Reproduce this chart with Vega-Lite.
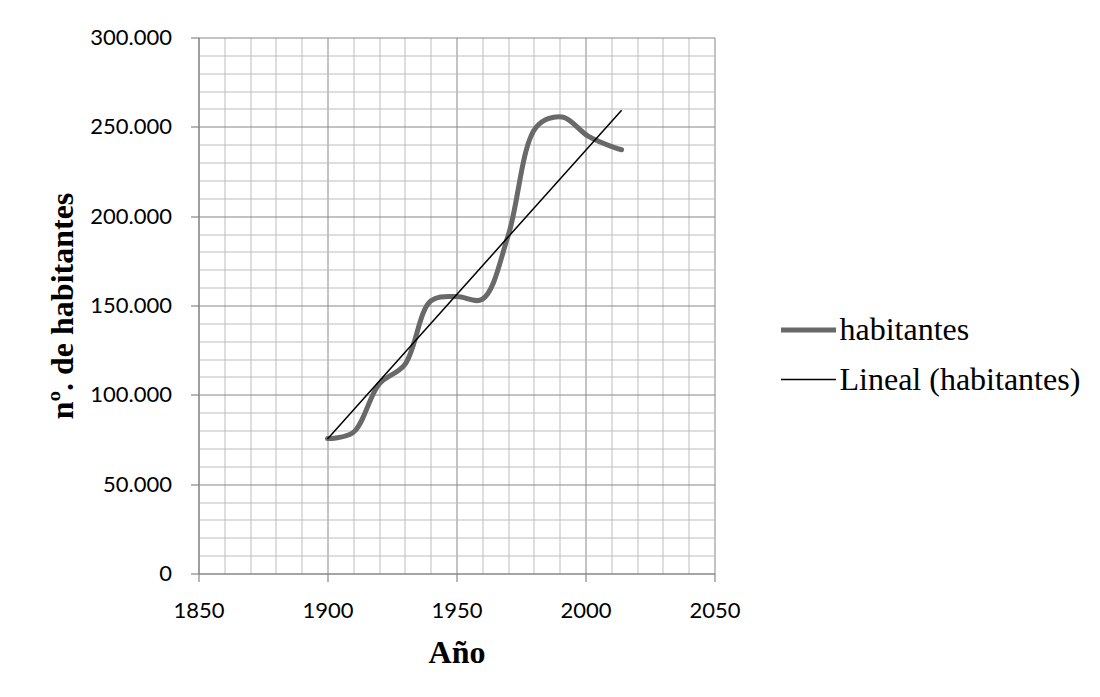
{
  "$schema": "https://vega.github.io/schema/vega-lite/v6.json",
  "width": 516,
  "height": 536,
  "autosize": {"type": "none"},
  "padding": {"left": 198.5, "top": 37.5, "right": 385.5, "bottom": 123},
  "background": "white",
  "config": {
    "view": {"stroke": null},
    "locale": {"number": {"decimal": ",", "thousands": ".", "grouping": [3], "currency": ["", " €"]}},
    "axis": {"labelFlush": false, "labelOverlap": false}
  },
  "datasets": {
    "habitantes": [
      {"anio": 1900, "valor": 75500, "serie": "habitantes"},
      {"anio": 1910, "valor": 79000, "serie": "habitantes"},
      {"anio": 1920, "valor": 106000, "serie": "habitantes"},
      {"anio": 1930, "valor": 117000, "serie": "habitantes"},
      {"anio": 1940, "valor": 152500, "serie": "habitantes"},
      {"anio": 1950, "valor": 155000, "serie": "habitantes"},
      {"anio": 1960, "valor": 153500, "serie": "habitantes"},
      {"anio": 1970, "valor": 189000, "serie": "habitantes"},
      {"anio": 1981, "valor": 250000, "serie": "habitantes"},
      {"anio": 1991, "valor": 255500, "serie": "habitantes"},
      {"anio": 2001, "valor": 244800, "serie": "habitantes"},
      {"anio": 2011, "valor": 238500, "serie": "habitantes"},
      {"anio": 2014, "valor": 237200, "serie": "habitantes"}
    ],
    "tendencia": [
      {"anio": 1900, "valor": 75300, "serie": "Lineal (habitantes)"},
      {"anio": 2014, "valor": 259300, "serie": "Lineal (habitantes)"}
    ]
  },
  "resolve": {"axis": {"x": "independent", "y": "independent"}},
  "layer": [
    {
      "data": {"name": "habitantes"},
      "mark": {"type": "line", "interpolate": "catmull-rom", "strokeCap": "round"},
      "encoding": {
        "x": {
          "field": "anio", "type": "quantitative",
          "scale": {"domain": [1850, 2050], "nice": false, "zero": false},
          "axis": {
            "orient": "bottom",
            "values": [1860, 1870, 1880, 1890, 1910, 1920, 1930, 1940, 1960, 1970, 1980, 1990, 2010, 2020, 2030, 2040],
            "grid": true, "gridColor": "#bdbdbd", "gridWidth": 1, "gridOpacity": 1,
            "domain": false, "ticks": false, "labels": false, "title": null
          }
        },
        "y": {
          "field": "valor", "type": "quantitative",
          "scale": {"domain": [0, 300000], "nice": false},
          "axis": {
            "orient": "left",
            "values": [10000, 20000, 30000, 40000, 60000, 70000, 80000, 90000, 110000, 120000, 130000, 140000, 160000, 170000, 180000, 190000, 210000, 220000, 230000, 240000, 260000, 270000, 280000, 290000],
            "grid": true, "gridColor": "#bdbdbd", "gridWidth": 1, "gridOpacity": 1,
            "domain": false, "ticks": false, "labels": false, "title": null
          }
        },
        "color": {
          "field": "serie", "type": "nominal",
          "scale": {"domain": ["habitantes", "Lineal (habitantes)"], "range": ["#696969", "#000000"]},
          "legend": {
            "title": null,
            "orient": "none",
            "legendX": 580,
            "legendY": 262.5,
            "symbolType": "stroke",
            "symbolSize": 3025,
            "labelFont": "Liberation Serif",
            "labelFontSize": 32,
            "labelColor": "#000000",
            "labelOffset": 1,
            "labelLimit": 400,
            "rowPadding": 5
          }
        },
        "strokeWidth": {
          "field": "serie", "type": "nominal",
          "scale": {"domain": ["habitantes", "Lineal (habitantes)"], "range": [5, 1.5]},
          "legend": {
            "title": null,
            "orient": "none",
            "legendX": 580,
            "legendY": 262.5,
            "symbolType": "stroke",
            "symbolSize": 3025,
            "labelFont": "Liberation Serif",
            "labelFontSize": 32,
            "labelColor": "#000000",
            "labelOffset": 1,
            "labelLimit": 400,
            "rowPadding": 5
          }
        }
      }
    },
    {
      "data": {"name": "tendencia"},
      "mark": {"type": "line"},
      "encoding": {
        "x": {
          "field": "anio", "type": "quantitative",
          "axis": {
            "orient": "bottom",
            "values": [1850, 1900, 1950, 2000, 2050],
            "format": "d",
            "grid": true, "gridColor": "#878787", "gridWidth": 1, "gridOpacity": 1,
            "domain": true, "domainColor": "#878787", "domainWidth": 1.2,
            "ticks": true, "tickColor": "#878787", "tickSize": 8, "tickWidth": 1.2,
            "labelFont": "Lato", "labelFontSize": 22, "labelColor": "#000000",
            "labelBaseline": "alphabetic", "labelPadding": 35.5,
            "title": "Año", "titleFont": "Liberation Serif", "titleFontSize": 32, "titleFontWeight": "bold",
            "titleColor": "#000000", "titleBaseline": "alphabetic", "titleY": 89, "titleX": 258
          }
        },
        "y": {
          "field": "valor", "type": "quantitative",
          "axis": {
            "orient": "left",
            "values": [0, 50000, 100000, 150000, 200000, 250000, 300000],
            "format": ",.0f",
            "grid": true, "gridColor": "#878787", "gridWidth": 1, "gridOpacity": 1,
            "domain": true, "domainColor": "#878787", "domainWidth": 1.2,
            "ticks": true, "tickColor": "#878787", "tickSize": 8, "tickWidth": 1.2,
            "labelFont": "Lato", "labelFontSize": 22, "labelColor": "#000000",
            "labelPadding": 19,
            "title": "nº. de habitantes", "titleFont": "Liberation Serif", "titleFontSize": 32, "titleFontWeight": "bold",
            "titleColor": "#000000", "titleAngle": 270, "titleBaseline": "alphabetic", "titleAlign": "center",
            "titleX": -126, "titleY": 268
          }
        },
        "color": {"field": "serie", "type": "nominal"},
        "strokeWidth": {"field": "serie", "type": "nominal"}
      }
    }
  ]
}
